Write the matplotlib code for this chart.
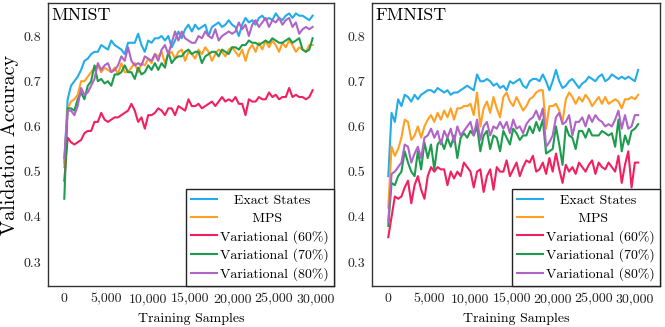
import numpy as np
import matplotlib
matplotlib.use('agg')
import matplotlib.pyplot as plt
from matplotlib.ticker import FuncFormatter

plt.rcParams['font.family'] = ['cmr10', 'DejaVu Serif']
plt.rcParams['mathtext.fontset'] = 'cm'
plt.rcParams['axes.formatter.use_mathtext'] = True

###
# data (validation accuracy vs training samples)
###
labels = ["Exact States", "MPS", "Variational (60%)", "Variational (70%)", "Variational (80%)"]
colors = ['#22acea', '#ffa024', '#f2205f', '#1e9c4e', '#b064c6']

# MNIST, one point every 400 samples
mnist_step = 400
mnist_exact = [
    0.52, 0.66, 0.69, 0.70, 0.71, 0.725, 0.745, 0.75, 0.76, 0.765, 0.765, 0.78, 0.775, 0.77, 0.79,
    0.78, 0.775, 0.77, 0.76, 0.785, 0.785, 0.785, 0.805, 0.78, 0.765, 0.79, 0.785, 0.795, 0.795, 0.80,
    0.79, 0.80, 0.775, 0.79, 0.81, 0.795, 0.815, 0.825, 0.81, 0.825, 0.815, 0.82, 0.825, 0.80, 0.82,
    0.825, 0.83, 0.82, 0.825, 0.835, 0.825, 0.82, 0.80, 0.825, 0.84, 0.83, 0.835, 0.825, 0.84, 0.845,
    0.835, 0.84, 0.835, 0.85, 0.84, 0.835, 0.845, 0.85, 0.84, 0.85, 0.845, 0.845, 0.84, 0.835, 0.845]
mnist_mps = [
    0.51, 0.64, 0.655, 0.66, 0.67, 0.70, 0.70, 0.71, 0.72, 0.73, 0.735, 0.72, 0.73, 0.725, 0.72,
    0.73, 0.715, 0.74, 0.72, 0.72, 0.73, 0.74, 0.72, 0.74, 0.735, 0.75, 0.74, 0.76, 0.755, 0.765,
    0.74, 0.76, 0.765, 0.75, 0.765, 0.77, 0.745, 0.765, 0.76, 0.75, 0.77, 0.76, 0.775, 0.765, 0.745,
    0.76, 0.77, 0.765, 0.755, 0.77, 0.775, 0.765, 0.755, 0.77, 0.745, 0.77, 0.78, 0.765, 0.785, 0.77,
    0.79, 0.775, 0.79, 0.78, 0.765, 0.785, 0.775, 0.79, 0.78, 0.765, 0.775, 0.77, 0.765, 0.78, 0.78]
mnist_var60 = [
    0.48, 0.575, 0.565, 0.56, 0.565, 0.57, 0.585, 0.59, 0.59, 0.61, 0.61, 0.63, 0.615, 0.61, 0.615,
    0.62, 0.62, 0.625, 0.63, 0.635, 0.65, 0.635, 0.61, 0.62, 0.595, 0.625, 0.625, 0.63, 0.64, 0.635,
    0.625, 0.64, 0.64, 0.625, 0.645, 0.64, 0.635, 0.66, 0.645, 0.645, 0.65, 0.64, 0.645, 0.65, 0.655,
    0.645, 0.655, 0.665, 0.655, 0.66, 0.655, 0.665, 0.65, 0.65, 0.625, 0.66, 0.655, 0.655, 0.665, 0.66,
    0.66, 0.675, 0.665, 0.67, 0.66, 0.665, 0.665, 0.685, 0.665, 0.67, 0.665, 0.665, 0.66, 0.665, 0.68]
mnist_var70 = [
    0.44, 0.64, 0.64, 0.635, 0.66, 0.675, 0.66, 0.69, 0.70, 0.735, 0.70, 0.705, 0.695, 0.70, 0.69,
    0.715, 0.715, 0.72, 0.735, 0.72, 0.72, 0.705, 0.73, 0.715, 0.72, 0.735, 0.725, 0.74, 0.725, 0.74,
    0.73, 0.765, 0.74, 0.75, 0.755, 0.755, 0.765, 0.77, 0.76, 0.765, 0.765, 0.74, 0.755, 0.76, 0.765,
    0.765, 0.755, 0.77, 0.765, 0.76, 0.775, 0.775, 0.77, 0.78, 0.78, 0.79, 0.785, 0.785, 0.78, 0.785,
    0.79, 0.785, 0.795, 0.79, 0.785, 0.785, 0.79, 0.795, 0.785, 0.79, 0.795, 0.77, 0.765, 0.77, 0.795]
mnist_var80 = [
    0.53, 0.635, 0.635, 0.625, 0.645, 0.685, 0.67, 0.675, 0.69, 0.705, 0.74, 0.725, 0.735, 0.74, 0.72,
    0.725, 0.735, 0.755, 0.745, 0.775, 0.745, 0.735, 0.74, 0.735, 0.755, 0.75, 0.745, 0.76, 0.745, 0.77,
    0.78, 0.76, 0.785, 0.81, 0.79, 0.81, 0.795, 0.79, 0.785, 0.785, 0.80, 0.795, 0.81, 0.80, 0.795,
    0.815, 0.79, 0.80, 0.805, 0.81, 0.805, 0.81, 0.83, 0.815, 0.825, 0.80, 0.825, 0.835, 0.82, 0.83,
    0.84, 0.82, 0.835, 0.83, 0.84, 0.825, 0.835, 0.84, 0.82, 0.83, 0.805, 0.815, 0.82, 0.815, 0.82]

# FMNIST, one point every 400 samples
fmnist_step = 400
fmnist_exact = [
    0.49, 0.63, 0.61, 0.66, 0.645, 0.67, 0.665, 0.655, 0.67, 0.66, 0.67, 0.675, 0.68, 0.68, 0.675,
    0.685, 0.68, 0.675, 0.68, 0.67, 0.675, 0.675, 0.68, 0.685, 0.69, 0.685, 0.68, 0.715, 0.70, 0.70,
    0.705, 0.70, 0.69, 0.695, 0.685, 0.69, 0.68, 0.70, 0.695, 0.70, 0.705, 0.69, 0.685, 0.70, 0.705,
    0.705, 0.70, 0.715, 0.70, 0.68, 0.70, 0.725, 0.70, 0.685, 0.69, 0.70, 0.705, 0.695, 0.685, 0.695,
    0.70, 0.71, 0.705, 0.70, 0.71, 0.715, 0.70, 0.705, 0.715, 0.71, 0.705, 0.71, 0.705, 0.71, 0.705,
    0.70, 0.725]
fmnist_mps = [
    0.42, 0.555, 0.535, 0.55, 0.575, 0.615, 0.61, 0.57, 0.58, 0.60, 0.575, 0.60, 0.615, 0.625, 0.61,
    0.63, 0.615, 0.635, 0.62, 0.64, 0.615, 0.64, 0.64, 0.645, 0.645, 0.65, 0.625, 0.675, 0.60, 0.64,
    0.655, 0.63, 0.665, 0.64, 0.62, 0.665, 0.675, 0.655, 0.645, 0.665, 0.65, 0.635, 0.645, 0.66, 0.665,
    0.675, 0.68, 0.68, 0.595, 0.645, 0.645, 0.65, 0.635, 0.61, 0.66, 0.675, 0.665, 0.65, 0.665, 0.655,
    0.67, 0.66, 0.645, 0.655, 0.665, 0.65, 0.665, 0.65, 0.655, 0.66, 0.655, 0.64, 0.66, 0.66, 0.665,
    0.66, 0.67]
fmnist_var60 = [
    0.355, 0.40, 0.445, 0.44, 0.445, 0.465, 0.48, 0.43, 0.47, 0.49, 0.46, 0.44, 0.49, 0.51, 0.50,
    0.51, 0.505, 0.505, 0.47, 0.50, 0.485, 0.50, 0.49, 0.52, 0.51, 0.50, 0.465, 0.50, 0.505, 0.455,
    0.49, 0.505, 0.46, 0.51, 0.50, 0.50, 0.525, 0.49, 0.505, 0.52, 0.49, 0.51, 0.525, 0.52, 0.535,
    0.50, 0.505, 0.52, 0.495, 0.53, 0.50, 0.54, 0.505, 0.475, 0.515, 0.50, 0.51, 0.495, 0.52, 0.51,
    0.50, 0.515, 0.525, 0.495, 0.52, 0.51, 0.505, 0.52, 0.51, 0.50, 0.535, 0.475, 0.515, 0.545, 0.465,
    0.52, 0.52]
fmnist_var70 = [
    0.38, 0.475, 0.47, 0.49, 0.50, 0.545, 0.52, 0.50, 0.49, 0.545, 0.505, 0.565, 0.53, 0.56, 0.505,
    0.56, 0.57, 0.55, 0.575, 0.555, 0.58, 0.53, 0.575, 0.585, 0.575, 0.59, 0.58, 0.60, 0.545, 0.58,
    0.59, 0.55, 0.58, 0.575, 0.545, 0.59, 0.575, 0.56, 0.595, 0.585, 0.57, 0.58, 0.58, 0.60, 0.585,
    0.61, 0.59, 0.615, 0.54, 0.545, 0.55, 0.60, 0.56, 0.515, 0.60, 0.58, 0.575, 0.55, 0.59, 0.59,
    0.575, 0.595, 0.58, 0.58, 0.58, 0.59, 0.585, 0.58, 0.585, 0.555, 0.615, 0.545, 0.58, 0.56, 0.59,
    0.595, 0.605]
fmnist_var80 = [
    0.39, 0.495, 0.50, 0.51, 0.52, 0.56, 0.555, 0.52, 0.54, 0.555, 0.53, 0.575, 0.58, 0.595, 0.575,
    0.59, 0.56, 0.59, 0.575, 0.595, 0.565, 0.60, 0.58, 0.59, 0.60, 0.61, 0.58, 0.615, 0.57, 0.60,
    0.61, 0.58, 0.60, 0.595, 0.61, 0.595, 0.61, 0.585, 0.615, 0.595, 0.60, 0.585, 0.605, 0.615, 0.62,
    0.635, 0.615, 0.64, 0.555, 0.565, 0.58, 0.62, 0.63, 0.605, 0.61, 0.625, 0.58, 0.61, 0.61, 0.62,
    0.60, 0.625, 0.61, 0.625, 0.615, 0.61, 0.60, 0.605, 0.60, 0.615, 0.635, 0.595, 0.625, 0.595, 0.60,
    0.625, 0.625]

panels = [
    ("MNIST", mnist_step, [mnist_exact, mnist_mps, mnist_var60, mnist_var70, mnist_var80], (-1940, 32150)),
    ("FMNIST", fmnist_step, [fmnist_exact, fmnist_mps, fmnist_var60, fmnist_var70, fmnist_var80], (-1980, 33060)),
]

# legend labels padded so they look centred like the original
legend_labels = ["   Exact States", "       MPS", "Variational (60%)",
                 "Variational (70%)", "Variational (80%)"]

fig = plt.figure(figsize=(6.65, 3.27), dpi=100)
rects = [[0.0722, 0.1254, 0.4301, 0.8654], [0.5594, 0.1254, 0.4331, 0.8654]]

for (name, step, series, xlim), rect in zip(panels, rects):
    ax = fig.add_axes(rect)
    for vals, lab, col in zip(series, legend_labels, colors):
        x = np.arange(len(vals)) * step
        ax.plot(x, vals, color=col, lw=1.5, label=lab)
    ax.set_xlim(*xlim)
    ax.set_ylim(0.247, 0.873)
    ax.set_yticks([0.3, 0.4, 0.5, 0.6, 0.7, 0.8])
    ax.set_xticks([0, 5000, 10000, 15000, 20000, 25000, 30000])
    ax.xaxis.set_major_formatter(FuncFormatter(lambda v, p: "{:,.0f}".format(v)))
    ax.yaxis.set_major_formatter(FuncFormatter(lambda v, p: "{:.1f}".format(v)))
    ax.tick_params(length=0, pad=5, labelsize=10, colors='#222222')
    for s in ax.spines.values():
        s.set_color('#333333')
        s.set_linewidth(1.0)
    ax.set_xlabel("Training Samples", fontsize=10, labelpad=6)
    ax.text(0.012, 0.985, name, transform=ax.transAxes, ha='left', va='top', fontsize=13)
    leg = ax.legend(loc='lower right', fontsize=10, frameon=True, fancybox=False,
                    edgecolor='#222222', framealpha=1, borderaxespad=0, borderpad=0.35,
                    handlelength=1.9, handletextpad=0.25, labelspacing=0.36)
    leg.get_frame().set_linewidth(1.0)
    if name == "MNIST":
        ax.set_ylabel("Validation Accuracy", fontsize=14.5, labelpad=3)

plt.savefig("out.png", dpi=100)
